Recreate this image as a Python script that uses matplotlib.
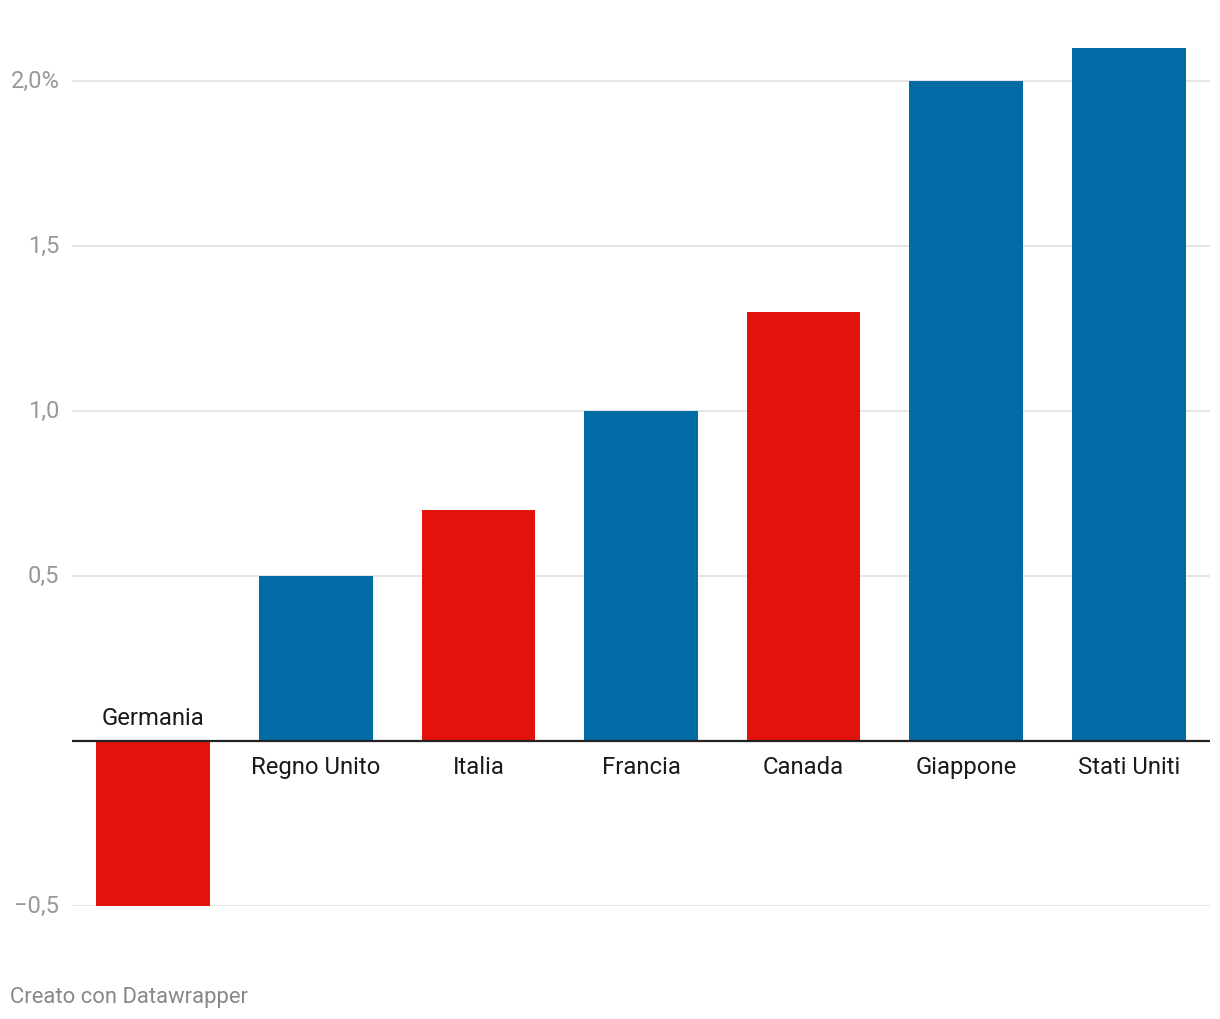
import matplotlib.pyplot as plt
import numpy as np

plt.rcParams["font.family"] = ["Roboto", "DejaVu Sans"]

countries = ["Germania", "Regno Unito", "Italia", "Francia", "Canada", "Giappone", "Stati Uniti"]
values = [-0.5, 0.5, 0.7, 1.0, 1.3, 2.0, 2.1]
highlight = [True, False, True, False, True, False, False]
ytick_values = [-0.5, 0.5, 1.0, 1.5, 2.0]
ytick_labels = ["\u22120,5", "0,5", "1,0", "1,5", "2,0%"]

BLUE = "#006ba4"
RED = "#e3120b"
GRID = "#e2e2e2"
TICK = "#999999"

fig = plt.figure(figsize=(12.2, 10.2), dpi=100)
ax = fig.add_axes([72 / 1220, (1020 - 906.5) / 1020, 1138 / 1220, (906.5 - 48.5) / 1020])

x = np.arange(len(countries))
colors = [RED if h else BLUE for h in highlight]
ax.bar(x, values, width=0.70, color=colors, zorder=3)

ax.set_xlim(-0.5, len(countries) - 0.5)
ax.set_ylim(-0.5, 2.1)

ax.set_yticks(ytick_values)
ax.set_yticklabels(ytick_labels, fontsize=17, color=TICK, va="center")
ax.tick_params(axis="y", length=0, pad=9)
ax.set_xticks([])
ax.set_axisbelow(True)
ax.yaxis.grid(True, color=GRID, linewidth=1.2)
ax.axhline(0, color="#222222", linewidth=1.6, zorder=4)

for spine in ax.spines.values():
    spine.set_visible(False)

for xi, name, v in zip(x, countries, values):
    if v >= 0:
        ax.annotate(name, xy=(xi, 0), xytext=(0, -19), textcoords="offset points",
                    ha="center", va="center", fontsize=17.2, color="#1a1a1a")
    else:
        ax.annotate(name, xy=(xi, 0), xytext=(0, 16.5), textcoords="offset points",
                    ha="center", va="center", fontsize=17.2, color="#1a1a1a")

fig.text(10 / 1220, 1 - 998 / 1020, "Creato con Datawrapper", ha="left", va="center",
         fontsize=15.8, color="#888888")

fig.savefig("out.png", dpi=100, facecolor="white")
